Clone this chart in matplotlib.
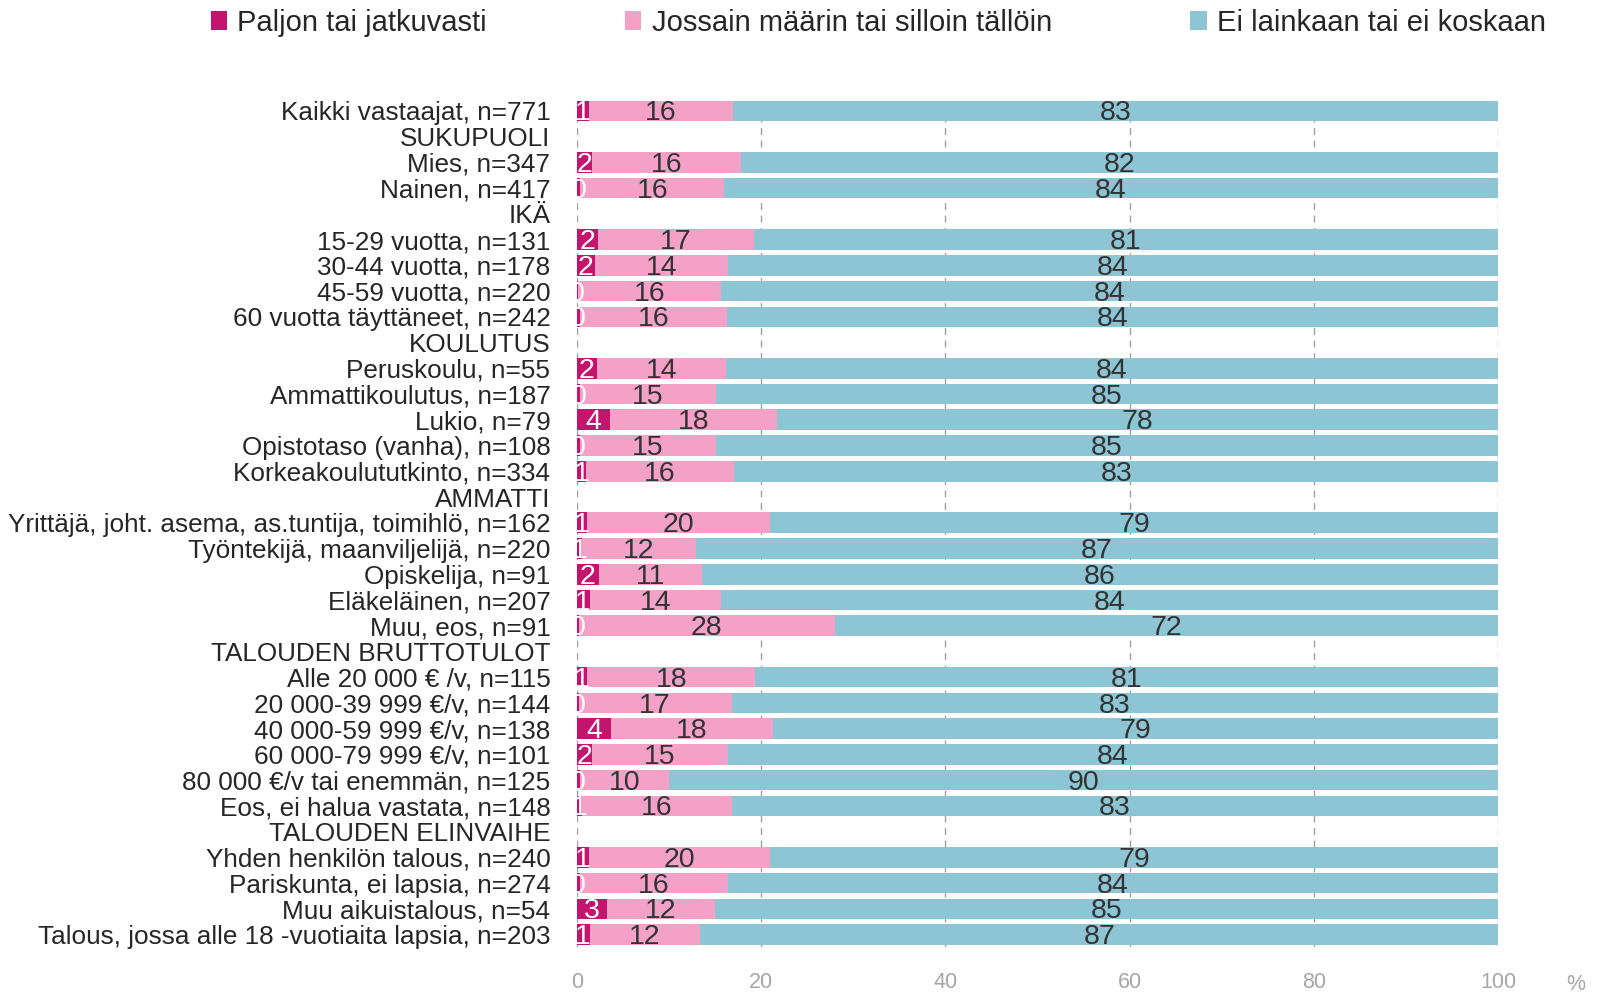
import numpy as np
import matplotlib
matplotlib.use("Agg")
import matplotlib.pyplot as plt
from matplotlib.patches import Patch

plt.rcParams['font.family'] = ['Liberation Sans Narrow', 'Liberation Sans', 'DejaVu Sans']

# --- Data (None = group heading row, no bar) ---
categories = [
    "Kaikki vastaajat, n=771",
    "SUKUPUOLI",
    "Mies, n=347",
    "Nainen, n=417",
    "IKÄ",
    "15-29 vuotta, n=131",
    "30-44 vuotta, n=178",
    "45-59 vuotta, n=220",
    "60 vuotta täyttäneet, n=242",
    "KOULUTUS",
    "Peruskoulu, n=55",
    "Ammattikoulutus, n=187",
    "Lukio, n=79",
    "Opistotaso (vanha), n=108",
    "Korkeakoulututkinto, n=334",
    "AMMATTI",
    "Yrittäjä, joht. asema, as.tuntija, toimihlö, n=162",
    "Työntekijä, maanviljelijä, n=220",
    "Opiskelija, n=91",
    "Eläkeläinen, n=207",
    "Muu, eos, n=91",
    "TALOUDEN BRUTTOTULOT",
    "Alle 20 000 € /v, n=115",
    "20 000-39 999 €/v, n=144",
    "40 000-59 999 €/v, n=138",
    "60 000-79 999 €/v, n=101",
    "80 000 €/v tai enemmän, n=125",
    "Eos, ei halua vastata, n=148",
    "TALOUDEN ELINVAIHE",
    "Yhden henkilön talous, n=240",
    "Pariskunta, ei lapsia, n=274",
    "Muu aikuistalous, n=54",
    "Talous, jossa alle 18 -vuotiaita lapsia, n=203",
]

paljon = [1.3, None, 1.7, 0.4, None, 2.3, 2.0, 0.1, 0.3, None, 2.2, 0.4, 3.6, 0.3, 1.0,
          None, 1.1, 0.6, 2.4, 1.4, 0.2, None, 1.1, 0.2, 3.7, 1.7, 0.3, 0.6,
          None, 1.3, 0.3, 3.3, 1.4]
jossain = [15.7, None, 16.1, 15.6, None, 16.9, 14.4, 15.6, 16.0, None, 14.0, 14.7, 18.1, 14.8, 16.1,
           None, 19.9, 12.3, 11.2, 14.3, 27.8, None, 18.3, 16.6, 17.6, 14.7, 9.7, 16.2,
           None, 19.7, 16.1, 11.7, 12.0]
ei = [83.0, None, 82.2, 84.0, None, 80.8, 83.6, 84.3, 83.7, None, 83.8, 84.9, 78.3, 84.9, 82.9,
      None, 79.0, 87.1, 86.4, 84.3, 72.0, None, 80.6, 83.2, 78.7, 83.6, 90.0, 83.2,
      None, 79.0, 83.6, 85.0, 86.6]

series_names = ["Paljon tai jatkuvasti", "Jossain määrin tai silloin tällöin", "Ei lainkaan tai ei koskaan"]
colors = ["#C4146E", "#F4A1C7", "#8DC5D4"]
label_colors = ["white", "#333333", "#333333"]

# --- Plot ---
fig = plt.figure(figsize=(16.12, 9.94), dpi=100)
ax = fig.add_axes([0.3578, 0.0468, 0.5715, 0.8546])

y = np.arange(len(categories))
data = [np.array([np.nan if v is None else v for v in s]) for s in (paljon, jossain, ei)]

left = np.zeros(len(categories))
for vals, col, lcol in zip(data, colors, label_colors):
    mask = ~np.isnan(vals)
    ax.barh(y[mask], vals[mask], left=left[mask], height=0.8, color=col,
            edgecolor="none", zorder=2)
    for yi, v, l in zip(y[mask], vals[mask], left[mask]):
        ax.text(l + v / 2, yi + 0.1, f"{int(round(v))}", ha="center", va="center",
                fontsize=20.5, color=lcol, zorder=3, clip_on=True)
    left = left + np.nan_to_num(vals)

ax.set_xlim(0, 100)
ax.set_ylim(len(categories) - 0.5, -0.5)
ax.set_xticks(range(0, 101, 20))
ax.set_yticks(y)
ax.set_yticklabels(categories)
ax.tick_params(axis="y", length=0, pad=19, labelsize=18.8, labelcolor="#262626")
ax.tick_params(axis="x", length=0, pad=18, labelsize=15.5, labelcolor="#A6A6A6")
for s in ax.spines.values():
    s.set_visible(False)
ax.grid(axis="x", color="#A0A0A0", linestyle=(0, (5, 4)), linewidth=1, zorder=0)
ax.set_axisbelow(True)

fig.text(1576 / 1612, 1 - 984 / 994, "%", ha="center", va="center",
         fontsize=15.5, color="#A6A6A6")

handles = [Patch(facecolor=c, edgecolor="none") for c in colors]
fig.legend(handles, series_names, loc="center left", bbox_to_anchor=(211 / 1612, 1 - 23 / 994),
           ncol=3, frameon=False, fontsize=21, handlelength=0.55, handleheight=0.65,
           handletextpad=0.35, columnspacing=4.75, labelcolor="#262626",
           borderaxespad=0, borderpad=0)

fig.savefig("out.png", dpi=100)
